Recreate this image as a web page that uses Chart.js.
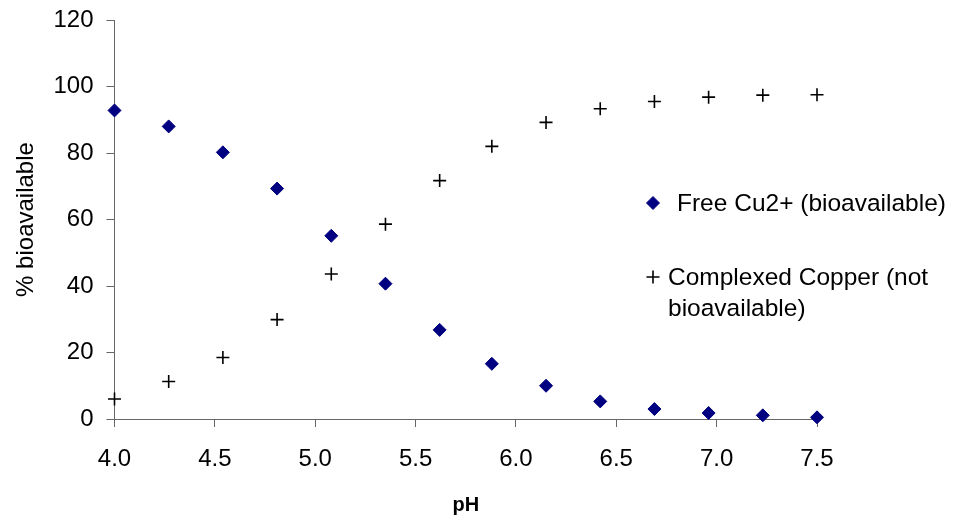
<!DOCTYPE html>
<html>
<head>
<meta charset="utf-8">
<script src="https://cdn.jsdelivr.net/npm/chart.js@4/dist/chart.umd.min.js"></script>
<style>
  html, body { margin: 0; padding: 0; background: #ffffff; }
  #wrap { width: 958px; height: 517px; }
</style>
</head>
<body>
<div id="wrap"><canvas id="c" width="958" height="517"></canvas></div>
<script>
// ---- data ----
const pH = [4.00, 4.27, 4.54, 4.81, 5.08, 5.35, 5.62, 5.88, 6.15, 6.42, 6.69, 6.96, 7.23, 7.50];
const freeCu = [92.8, 88.0, 80.2, 69.3, 55.1, 40.7, 26.8, 16.6, 10.0, 5.3, 3.0, 1.8, 1.1, 0.5];
const complexedCu = [6.0, 11.3, 18.5, 29.9, 43.6, 58.6, 71.7, 82.0, 89.2, 93.3, 95.5, 96.8, 97.4, 97.5];
const seriesNames = ["Free Cu2+ (bioavailable)", ["Complexed Copper (not", "bioavailable)"]];
const xTicks = [4.0, 4.5, 5.0, 5.5, 6.0, 6.5, 7.0, 7.5];
const yTicks = [0, 20, 40, 60, 80, 100, 120];
const xTitle = "pH";
const yTitle = "% bioavailable";

const FONT = "'Liberation Sans', Arial, sans-serif";
const AXIS = '#666666';

const toPts = (ys) => pH.map((x, i) => ({ x: x, y: ys[i] }));

const legendPlugin = {
  id: 'sideLegend',
  afterDraw(chart) {
    const ctx = chart.ctx;
    const ca = chart.chartArea;
    const items = [
      { ds: chart.data.datasets[0], name: seriesNames[0], mx: ca.right - 164, my: 203, tx: ca.right - 140, ty: 203 },
      { ds: chart.data.datasets[1], name: seriesNames[1], mx: ca.right - 164, my: 277, tx: ca.right - 149, ty: 277 }
    ];
    ctx.save();
    items.forEach(it => {
      const ds = it.ds;
      ctx.fillStyle = ds.backgroundColor;
      ctx.strokeStyle = ds.borderColor;
      ctx.lineWidth = ds.borderWidth;
      Chart.helpers.drawPoint(ctx, { pointStyle: ds.pointStyle, radius: ds.pointRadius, borderWidth: ds.borderWidth, rotation: 0 }, it.mx, it.my);
      ctx.fillStyle = '#000000';
      ctx.font = '24.5px ' + FONT;
      ctx.textAlign = 'left';
      ctx.textBaseline = 'middle';
      const lines = Array.isArray(it.name) ? it.name : [it.name];
      lines.forEach((ln, k) => ctx.fillText(ln, it.tx, it.ty + 1 + k * 31));
    });
    ctx.restore();
  }
};

new Chart(document.getElementById('c'), {
  type: 'scatter',
  data: {
    datasets: [
      {
        label: "Free Cu2+ (bioavailable)",
        data: toPts(freeCu),
        pointStyle: 'rectRot',
        pointRadius: 6.5,
        pointHoverRadius: 6.5,
        backgroundColor: '#000080',
        borderColor: '#000080',
        borderWidth: 1,
        clip: false
      },
      {
        label: "Complexed Copper (not bioavailable)",
        data: toPts(complexedCu),
        pointStyle: 'cross',
        pointRadius: 6.5,
        pointHoverRadius: 6.5,
        backgroundColor: '#000000',
        borderColor: '#000000',
        borderWidth: 1.6,
        clip: false
      }
    ]
  },
  options: {
    responsive: false,
    animation: false,
    devicePixelRatio: 1,
    events: [],
    layout: { padding: { left: 0, top: 20, right: 141, bottom: 0 } },
    plugins: { legend: { display: false }, tooltip: { enabled: false } },
    scales: {
      x: {
        type: 'linear',
        min: 4.0,
        max: 7.5,
        afterBuildTicks: (s) => { s.ticks = xTicks.map(v => ({ value: v })); },
        afterFit: (s) => { s.height = 98; s.paddingLeft = 0; s.paddingRight = 0; },
        ticks: {
          callback: (v) => Number(v).toFixed(1),
          color: '#000000',
          font: { family: FONT, size: 24 },
          padding: 18,
          maxRotation: 0,
          autoSkip: false
        },
        grid: { drawOnChartArea: false, drawTicks: true, tickLength: 8, color: AXIS, lineWidth: 1 },
        border: { display: true, color: AXIS, width: 1 },
        title: { display: true, text: xTitle, color: '#000000', font: { family: FONT, size: 20, weight: 'bold' }, padding: { top: 0, bottom: 0 } }
      },
      y: {
        type: 'linear',
        min: 0,
        max: 120,
        afterBuildTicks: (s) => { s.ticks = yTicks.map(v => ({ value: v })); },
        afterFit: (s) => { s.width = 114.5; s.paddingTop = 0; s.paddingBottom = 0; },
        ticks: {
          color: '#000000',
          font: { family: FONT, size: 24 },
          padding: 13
        },
        grid: { drawOnChartArea: false, drawTicks: true, tickLength: 8, color: AXIS, lineWidth: 1 },
        border: { display: true, color: AXIS, width: 1 },
        title: { display: true, text: yTitle, color: '#000000', font: { family: FONT, size: 24 }, padding: { top: 12, bottom: 0 } }
      }
    }
  },
  plugins: [legendPlugin]
});
</script>
</body>
</html>
